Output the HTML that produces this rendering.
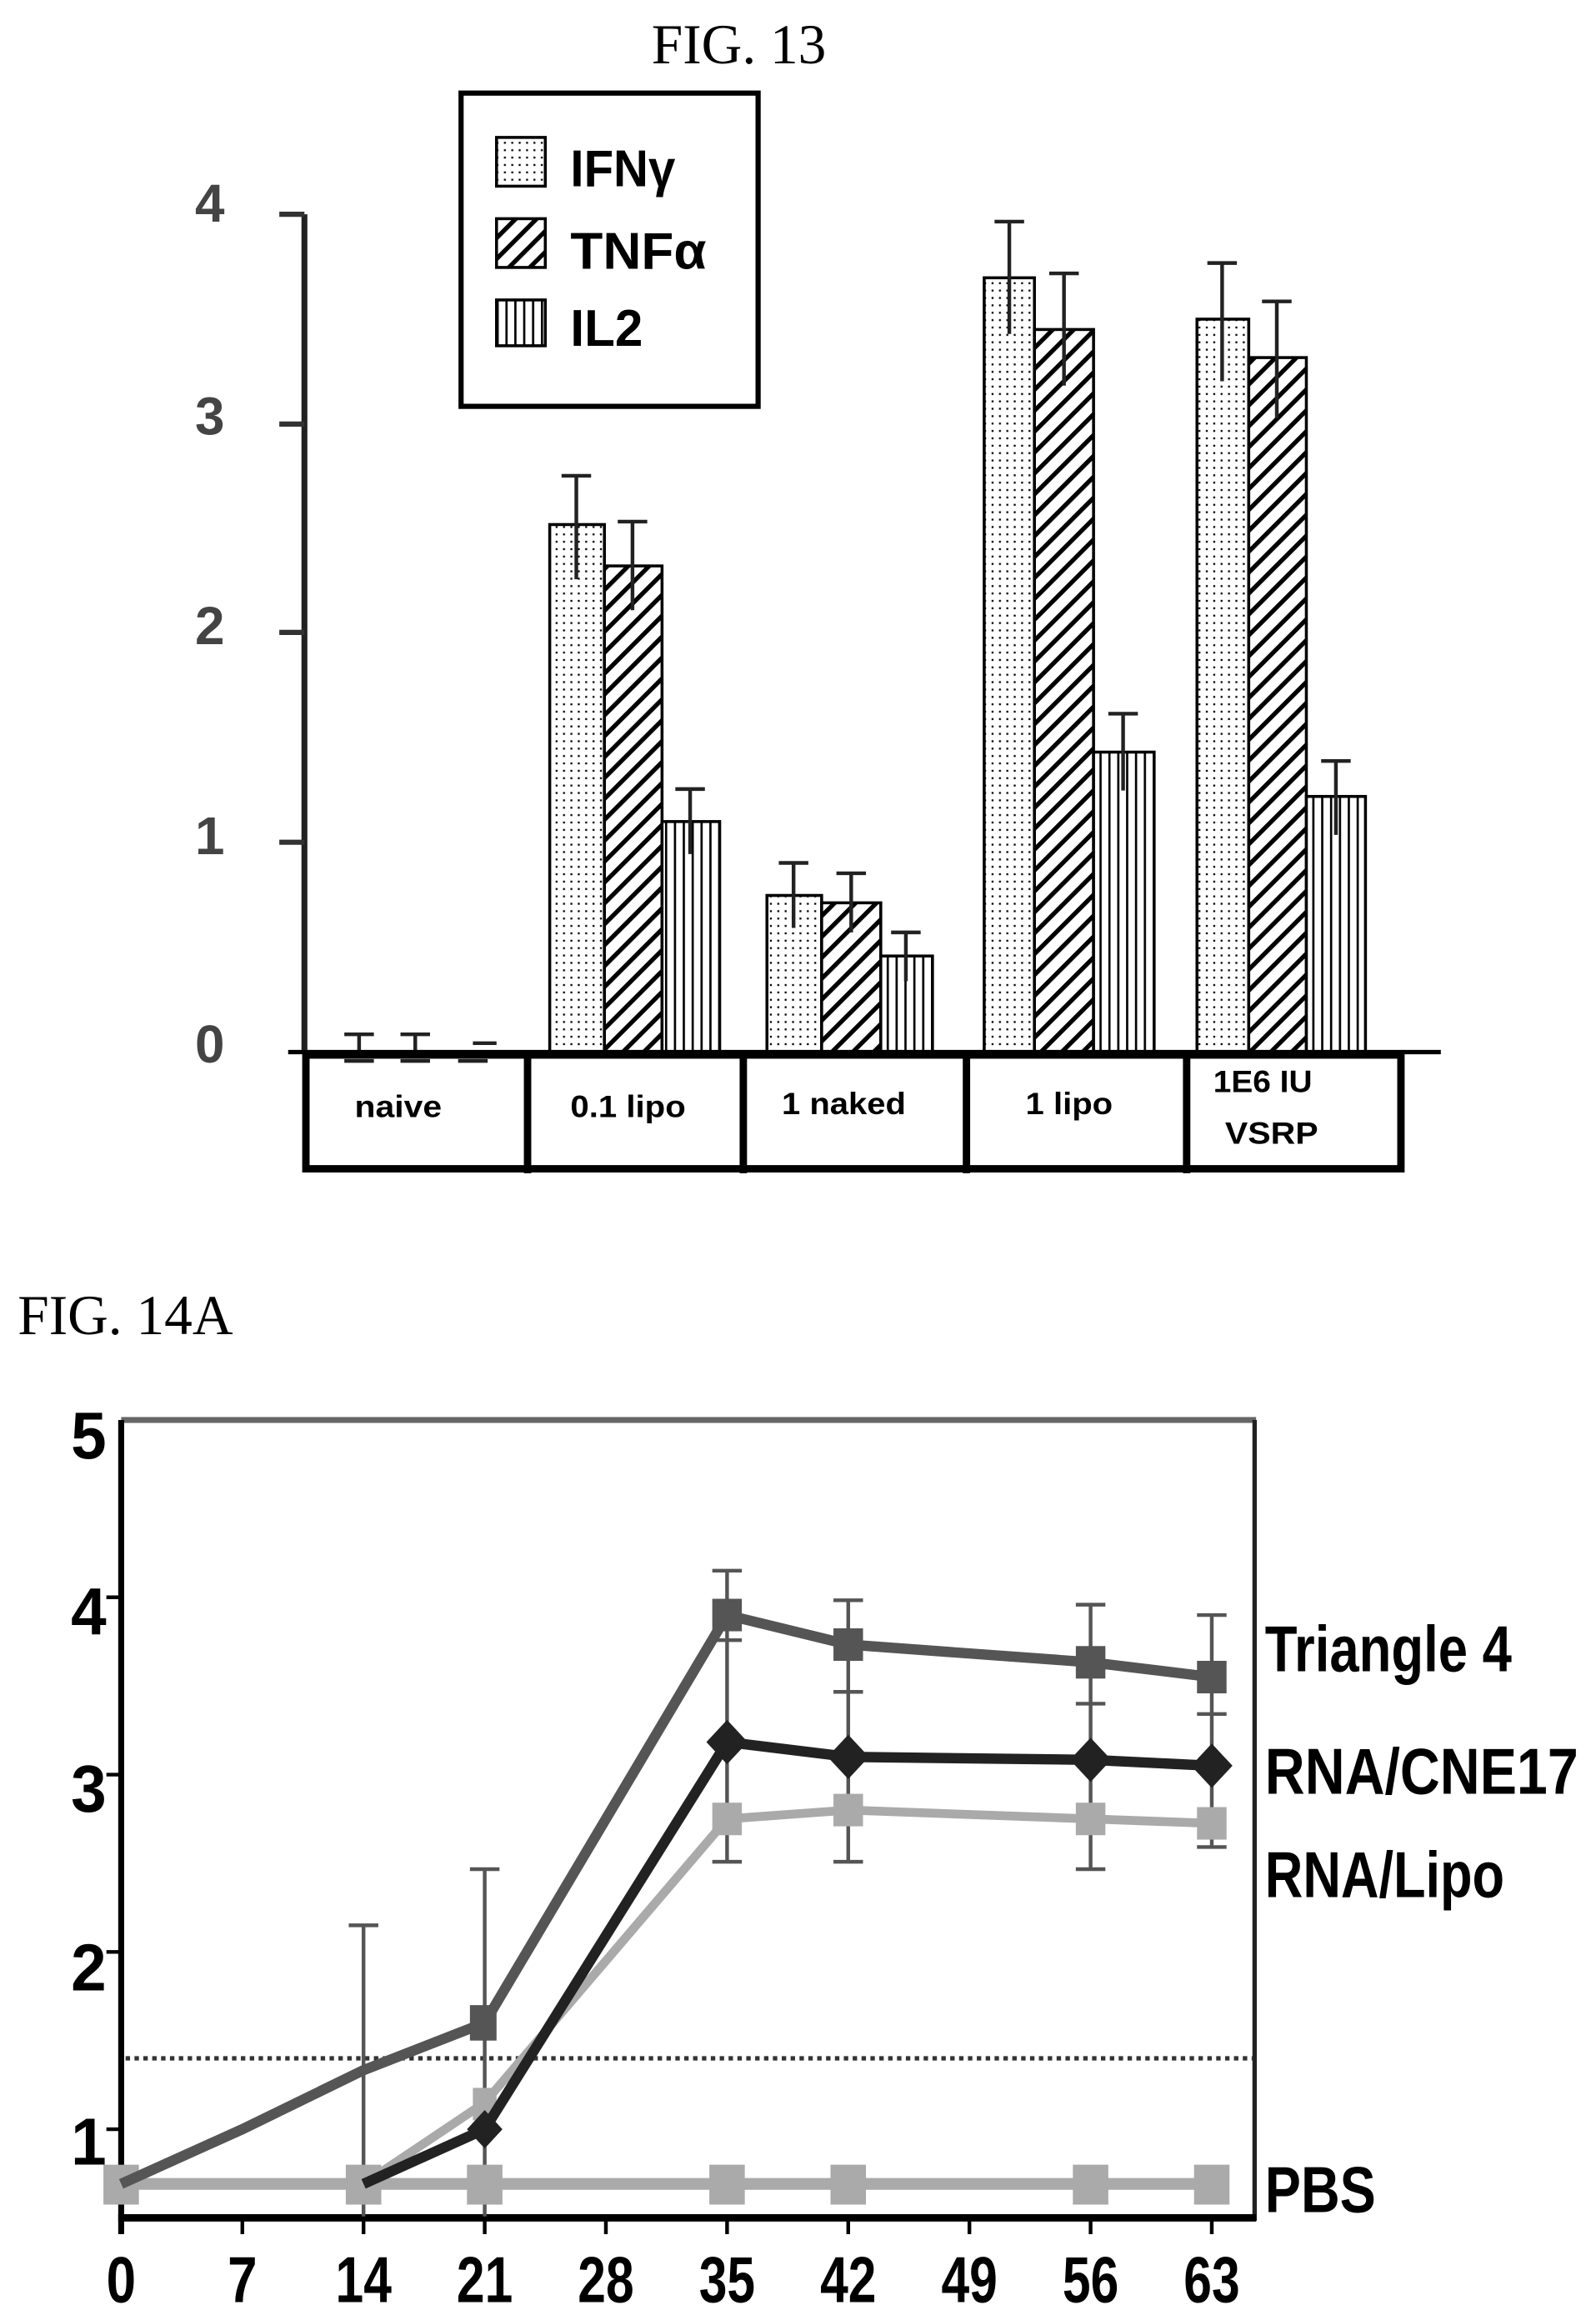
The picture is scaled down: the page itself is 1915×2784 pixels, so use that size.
<!DOCTYPE html>
<html><head><meta charset="utf-8"><style>
html,body{margin:0;padding:0;background:#fff;}
svg{display:block;}
.b{font-family:"Liberation Sans",sans-serif;font-weight:bold;}
</style></head><body>
<svg width="1915" height="2784" viewBox="0 0 1080 1570.1" preserveAspectRatio="none" xmlns="http://www.w3.org/2000/svg">
<defs>
<pattern id="dots" width="5" height="5" patternUnits="userSpaceOnUse"><rect width="5" height="5" fill="#fff"/><rect x="1" y="1" width="1.3" height="1.3" fill="#000"/></pattern>
<pattern id="diag" width="10" height="10" patternUnits="userSpaceOnUse" patternTransform="rotate(45)"><rect width="10" height="10" fill="#fff"/><rect x="0" width="3" height="10" fill="#000"/></pattern>
<pattern id="vert" width="6" height="6" patternUnits="userSpaceOnUse"><rect width="6" height="6" fill="#fff"/><rect x="0" width="1.5" height="6" fill="#000"/></pattern>
</defs>
<rect width="1080" height="1570.1" fill="#fff"/>
<text x="500" y="43" font-family="Liberation Serif,serif" font-size="38" text-anchor="middle">FIG. 13</text>

<!-- Fig13 legend -->
<rect x="312" y="63" width="201" height="212" fill="none" stroke="#000" stroke-width="3.5"/>
<rect x="336" y="93" width="33" height="33" fill="url(#dots)" stroke="#000" stroke-width="2"/>
<rect x="336" y="148" width="33" height="33" fill="url(#diag)" stroke="#000" stroke-width="2"/>
<rect x="336" y="203" width="33" height="31" fill="url(#vert)" stroke="#000" stroke-width="2"/>
<text x="386" y="126" class="b" font-size="35" textLength="71" lengthAdjust="spacingAndGlyphs">IFNγ</text>
<text x="386" y="182" class="b" font-size="35" textLength="92" lengthAdjust="spacingAndGlyphs">TNFα</text>
<text x="386" y="234" class="b" font-size="35" textLength="49" lengthAdjust="spacingAndGlyphs">IL2</text>

<!-- Fig13 axis -->
<line x1="206" y1="145" x2="206" y2="712" stroke="#222" stroke-width="4"/>
<g stroke="#333" stroke-width="3.5">
<line x1="189" y1="145" x2="206" y2="145"/><line x1="189" y1="287" x2="206" y2="287"/><line x1="189" y1="428" x2="206" y2="428"/><line x1="189" y1="570" x2="206" y2="570"/>
</g>
<g font-family="Liberation Sans,sans-serif" font-weight="bold" font-size="36" fill="#444" text-anchor="middle">
<text x="142" y="150">4</text><text x="142" y="294">3</text><text x="142" y="436">2</text><text x="142" y="578">1</text><text x="142" y="719">0</text>
</g>
<!-- bars -->
<g stroke="#000" stroke-width="2">
<rect x="372" y="355" width="37" height="357" fill="url(#dots)"/>
<rect x="409" y="383" width="39" height="329" fill="url(#diag)"/>
<rect x="448" y="556" width="39" height="156" fill="url(#vert)"/>
<rect x="519" y="606" width="37" height="106" fill="url(#dots)"/>
<rect x="556" y="611" width="40" height="101" fill="url(#diag)"/>
<rect x="596" y="647" width="35" height="65" fill="url(#vert)"/>
<rect x="666" y="188" width="34" height="524" fill="url(#dots)"/>
<rect x="700" y="223" width="40" height="489" fill="url(#diag)"/>
<rect x="740" y="509" width="41" height="203" fill="url(#vert)"/>
<rect x="810" y="216" width="35" height="496" fill="url(#dots)"/>
<rect x="845" y="242" width="39" height="470" fill="url(#diag)"/>
<rect x="884" y="539" width="40" height="173" fill="url(#vert)"/>
</g>
<!-- error bars -->
<g stroke="#222" stroke-width="2.5" fill="none">
<path d="M390 322V392M380 322H400"/><path d="M428 353V413M418 353H438"/><path d="M467 534V578M457 534H477"/>
<path d="M537 584V628M527 584H547"/><path d="M576 591V631M566 591H586"/><path d="M613 631V664M603 631H623"/>
<path d="M683 150V226M673 150H693"/><path d="M720 185V261M710 185H730"/><path d="M760 483V535M750 483H770"/>
<path d="M827 178V258M817 178H837"/><path d="M864 204V283M854 204H874"/><path d="M904 515V565M894 515H914"/>
<path d="M243 700V712M233 700H253M233 718H253"/><path d="M281 700V712M271 700H291M271 718H291"/><path d="M320 706H336M310 718H330"/>
</g>
<!-- table -->
<line x1="195" y1="712" x2="975" y2="712" stroke="#000" stroke-width="3"/>
<g stroke="#000" stroke-width="5" fill="none">
<rect x="207" y="714" width="741" height="77"/>
<line x1="357" y1="714" x2="357" y2="794"/><line x1="503" y1="714" x2="503" y2="794"/><line x1="654" y1="714" x2="654" y2="794"/><line x1="803" y1="714" x2="803" y2="794"/>
</g>
<g class="b" font-size="21">
<text x="240" y="756" textLength="59" lengthAdjust="spacingAndGlyphs">naive</text>
<text x="386" y="756" textLength="78" lengthAdjust="spacingAndGlyphs">0.1 lipo</text>
<text x="529" y="754" textLength="84" lengthAdjust="spacingAndGlyphs">1 naked</text>
<text x="694" y="754" textLength="59" lengthAdjust="spacingAndGlyphs">1 lipo</text>
<text x="821" y="739" textLength="67" lengthAdjust="spacingAndGlyphs">1E6 IU</text>
<text x="829" y="774" textLength="63" lengthAdjust="spacingAndGlyphs">VSRP</text>
</g>

<!-- FIG 14A -->
<text x="12" y="903" font-family="Liberation Serif,serif" font-size="38">FIG. 14A</text>
<rect x="82" y="959" width="768" height="4" fill="#666"/>
<line x1="849" y1="961" x2="849" y2="1503" stroke="#222" stroke-width="3"/>
<line x1="82" y1="961" x2="82" y2="1512" stroke="#000" stroke-width="4"/>
<line x1="80" y1="1501" x2="850" y2="1501" stroke="#000" stroke-width="5"/>
<g stroke="#000" stroke-width="2.5">
<line x1="72" y1="1081" x2="82" y2="1081"/><line x1="72" y1="1201" x2="82" y2="1201"/><line x1="72" y1="1321" x2="82" y2="1321"/><line x1="72" y1="1441" x2="82" y2="1441"/>
<line x1="164" y1="1501" x2="164" y2="1512"/><line x1="246" y1="1501" x2="246" y2="1512"/><line x1="328" y1="1501" x2="328" y2="1512"/><line x1="410" y1="1501" x2="410" y2="1512"/><line x1="492" y1="1501" x2="492" y2="1512"/><line x1="574" y1="1501" x2="574" y2="1512"/><line x1="656" y1="1501" x2="656" y2="1512"/><line x1="738" y1="1501" x2="738" y2="1512"/><line x1="820" y1="1501" x2="820" y2="1512"/>
</g>
<g class="b" font-size="45">
<text x="48" y="987" textLength="24" lengthAdjust="spacingAndGlyphs">5</text>
<text x="48" y="1106" textLength="24" lengthAdjust="spacingAndGlyphs">4</text>
<text x="48" y="1226" textLength="24" lengthAdjust="spacingAndGlyphs">3</text>
<text x="48" y="1347" textLength="24" lengthAdjust="spacingAndGlyphs">2</text>
<text x="48" y="1465" textLength="24" lengthAdjust="spacingAndGlyphs">1</text>
</g>
<g class="b" font-size="44">
<text x="72" y="1558" textLength="20" lengthAdjust="spacingAndGlyphs">0</text>
<text x="154" y="1558" textLength="20" lengthAdjust="spacingAndGlyphs">7</text>
<text x="227" y="1558" textLength="38" lengthAdjust="spacingAndGlyphs">14</text>
<text x="309" y="1558" textLength="38" lengthAdjust="spacingAndGlyphs">21</text>
<text x="391" y="1558" textLength="38" lengthAdjust="spacingAndGlyphs">28</text>
<text x="473" y="1558" textLength="38" lengthAdjust="spacingAndGlyphs">35</text>
<text x="555" y="1558" textLength="38" lengthAdjust="spacingAndGlyphs">42</text>
<text x="637" y="1558" textLength="38" lengthAdjust="spacingAndGlyphs">49</text>
<text x="719" y="1558" textLength="38" lengthAdjust="spacingAndGlyphs">56</text>
<text x="801" y="1558" textLength="38" lengthAdjust="spacingAndGlyphs">63</text>
</g>
<!-- dotted threshold -->
<line x1="85" y1="1393" x2="848" y2="1393" stroke="#333" stroke-width="3" stroke-dasharray="3 3"/>
<!-- error bars -->
<g stroke="#555" stroke-width="2.5" fill="none">
<path d="M246 1303V1500M236 1303H256"/>
<path d="M328 1265V1500M318 1265H338"/>
<path d="M492 1063V1260M482 1063H502M482 1110H502M482 1260H502"/>
<path d="M574 1083V1260M564 1083H584M564 1145H584M564 1260H584"/>
<path d="M738 1086V1265M728 1086H748M728 1153H748M728 1265H748"/>
<path d="M820 1093V1250M810 1093H830M810 1160H830M810 1250H830"/>
</g>
<!-- PBS -->
<g stroke="#aaa" fill="#aaa">
<polyline points="82,1478 246,1478 328,1478 492,1478 574,1478 738,1478 820,1478" fill="none" stroke-width="8"/>
<g stroke="none"><rect x="70" y="1465" width="24" height="27"/><rect x="234" y="1465" width="24" height="27"/><rect x="316" y="1465" width="24" height="27"/><rect x="480" y="1465" width="24" height="27"/><rect x="562" y="1465" width="24" height="27"/><rect x="726" y="1465" width="24" height="27"/><rect x="808" y="1465" width="24" height="27"/></g>
</g>
<!-- RNA/Lipo -->
<g fill="#aaa" stroke="#aaa">
<polyline points="246,1478 328,1423 492,1231 574,1225 738,1231 820,1234" fill="none" stroke-width="6"/>
<g stroke="none"><rect x="320" y="1413" width="16" height="22"/><rect x="482" y="1220" width="20" height="22"/><rect x="564" y="1214" width="20" height="22"/><rect x="728" y="1220" width="20" height="22"/><rect x="810" y="1223" width="20" height="22"/></g>
</g>
<!-- Triangle 4 -->
<g fill="#555" stroke="#555">
<polyline points="82,1478 164,1441 246,1401 328,1369 492,1093 574,1113 738,1125 820,1135" fill="none" stroke-width="7"/>
<g stroke="none"><rect x="482" y="1082" width="20" height="22"/><rect x="564" y="1102" width="20" height="22"/><rect x="728" y="1114" width="20" height="22"/><rect x="810" y="1124" width="20" height="22"/><rect x="318" y="1357" width="18" height="24"/></g>
</g>
<!-- RNA/CNE17 -->
<g fill="#222" stroke="#222">
<polyline points="246,1478 328,1441 492,1179 574,1189 738,1191 820,1195" fill="none" stroke-width="7"/>
<g stroke="none">
<polygon points="328,1428 340,1441 328,1454 316,1441"/>
<polygon points="492,1164 506,1179 492,1194 478,1179"/>
<polygon points="574,1174 588,1189 574,1204 560,1189"/>
<polygon points="738,1176 752,1191 738,1206 724,1191"/>
<polygon points="820,1180 834,1195 820,1210 806,1195"/>
</g>
</g>
<g class="b" font-size="44">
<text x="856" y="1131" textLength="167" lengthAdjust="spacingAndGlyphs">Triangle 4</text>
<text x="856" y="1214" textLength="212" lengthAdjust="spacingAndGlyphs">RNA/CNE17</text>
<text x="856" y="1284" textLength="162" lengthAdjust="spacingAndGlyphs">RNA/Lipo</text>
<text x="856" y="1497" textLength="75" lengthAdjust="spacingAndGlyphs">PBS</text>
</g>
</svg>
</body></html>
